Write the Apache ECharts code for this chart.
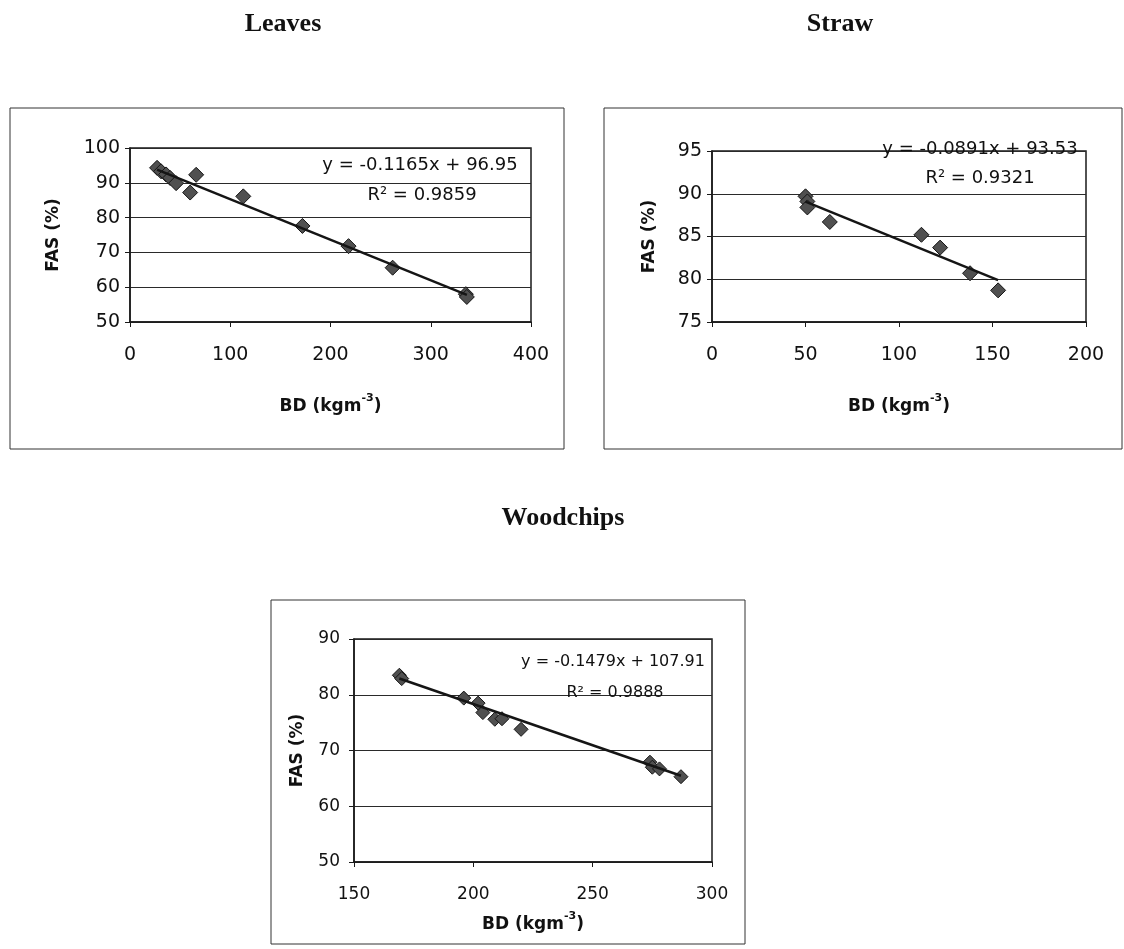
<!DOCTYPE html>
<html>
<head>
<meta charset="utf-8">
<script src="https://cdn.jsdelivr.net/npm/echarts/dist/echarts.min.js"></script>
<style>html,body{margin:0;padding:0;background:#fff}#c{width:1124px;height:949px}</style>
</head>
<body>
<div id="c"></div>
<script>
// ---- data ----
const leavesBD  = [27, 31, 36, 40, 46, 60, 66, 113, 172, 218, 262, 335, 336];
const leavesFAS = [94.3, 93.3, 92.4, 91.4, 89.9, 87.2, 92.3, 86.1, 77.6, 71.8, 65.6, 58.0, 57.2];
const strawBD   = [50, 51, 51, 63, 112, 122, 138, 153];
const strawFAS  = [89.7, 89.1, 88.4, 86.7, 85.2, 83.7, 80.7, 78.7];
const woodBD    = [169, 170, 196, 202, 204, 209, 212, 220, 274, 275, 278, 287];
const woodFAS   = [83.5, 82.9, 79.4, 78.5, 76.8, 75.6, 75.7, 73.8, 67.9, 67.0, 66.7, 65.3];

// linear trendlines as printed on the charts: [slope, intercept]
const leavesFit = [-0.1165, 96.95];
const strawFit  = [-0.0891, 93.53];
const woodFit   = [-0.1479, 107.91];
const leavesEq = ['y = -0.1165x + 96.95', 'R\u00B2 = 0.9859'];
const strawEq  = ['y = -0.0891x + 93.53', 'R\u00B2 = 0.9321'];
const woodEq   = ['y = -0.1479x + 107.91', 'R\u00B2 = 0.9888'];

const titles = ['Leaves', 'Straw', 'Woodchips'];
// axis ranges [min, max, interval]
const leavesX = [0, 400, 100], leavesY = [50, 100, 10];
const strawX  = [0, 200, 50],  strawY  = [75, 95, 5];
const woodX   = [150, 300, 50], woodY  = [50, 90, 10];
const xName = 'BD (kgm';
const xSup = '-3';
const yName = 'FAS (%)';

// ---- build ----
const F = '"DejaVu Sans", Arial, sans-serif';
const pts = (xs, ys) => xs.map((x, i) => [x, ys[i]]);
const trend = (xs, fit) => {
  const lo = Math.min(...xs), hi = Math.max(...xs);
  return [[lo, fit[0] * lo + fit[1]], [hi, fit[0] * hi + fit[1]]];
};

const grids = [
  {left: 130, top: 148, width: 401, height: 174},
  {left: 712, top: 151, width: 374, height: 171},
  {left: 354, top: 639, width: 358, height: 223}
];
const fs = [19, 19, 17];
const xr = [leavesX, strawX, woodX];
const yr = [leavesY, strawY, woodY];
const xGap = [71, 71, 49];
const yGap = [68, 54, 48];
const xLabMargin = [24, 24, 24];
const yLabMargin = [10, 10, 14];

const xAxes = xr.map((r, i) => ({
  type: 'value', gridIndex: i, min: r[0], max: r[1], interval: r[2],
  axisLine: {show: true, onZero: false, lineStyle: {color: '#1a1a1a', width: 1.5}},
  axisTick: {show: true, inside: false, length: 5, lineStyle: {color: '#1a1a1a'}},
  axisLabel: {fontFamily: F, fontSize: fs[i], color: '#111', margin: xLabMargin[i]},
  splitLine: {show: false},
  name: '{b|' + xName + '}{s|' + xSup + '}{b|)}',
  nameLocation: 'middle', nameGap: xGap[i],
  nameTextStyle: {
    rich: {
      b: {fontFamily: F, fontWeight: 'bold', fontSize: 17, color: '#111', lineHeight: 22, verticalAlign: 'bottom'},
      s: {fontFamily: F, fontWeight: 'bold', fontSize: 11, color: '#111', lineHeight: 22, verticalAlign: 'top'}
    }
  }
}));
const yAxes = yr.map((r, i) => ({
  type: 'value', gridIndex: i, min: r[0], max: r[1], interval: r[2],
  axisLine: {show: true, onZero: false, lineStyle: {color: '#1a1a1a', width: 1.5}},
  axisTick: {show: true, inside: false, length: 5, lineStyle: {color: '#1a1a1a'}},
  axisLabel: {fontFamily: F, fontSize: fs[i], color: '#111', margin: yLabMargin[i]},
  splitLine: {show: true, lineStyle: {color: '#2a2a2a', width: 1}},
  name: yName, nameLocation: 'middle', nameGap: yGap[i], nameRotate: 90,
  nameTextStyle: {fontFamily: F, fontWeight: 'bold', fontSize: 17, color: '#111'}
}));

const sets = [[leavesBD, leavesFAS, leavesFit], [strawBD, strawFAS, strawFit], [woodBD, woodFAS, woodFit]];
const series = [];
sets.forEach((s, i) => {
  series.push({
    type: 'scatter', xAxisIndex: i, yAxisIndex: i, data: pts(s[0], s[1]),
    symbol: 'diamond', symbolSize: i === 2 ? 14 : 15, z: 3,
    itemStyle: {color: '#505050', borderColor: '#151515', borderWidth: 1, opacity: 1}
  });
  series.push({
    type: 'line', xAxisIndex: i, yAxisIndex: i, data: trend(s[0], s[2]),
    symbol: 'none', z: 4, silent: true,
    lineStyle: {color: '#151515', width: 2.5}
  });
});

const boxes = [
  {x: 10, y: 108, w: 554, h: 341},
  {x: 604, y: 108, w: 518, h: 341},
  {x: 271, y: 600, w: 474, h: 344}
];
const graphic = [];
boxes.forEach(b => graphic.push({
  type: 'rect', z: -1, silent: true,
  shape: {x: b.x, y: b.y, width: b.w, height: b.h},
  style: {fill: 'none', stroke: '#333', lineWidth: 1}
}));
const titlePos = [[283, 24], [840, 24], [563, 518]];
titles.forEach((t, i) => graphic.push({
  type: 'text', x: titlePos[i][0], y: titlePos[i][1],
  style: {text: t, font: 'bold 26px "Liberation Serif", "Times New Roman", serif', fill: '#111',
          textAlign: 'center', textVerticalAlign: 'middle', align: 'center', verticalAlign: 'middle'}
}));
const eqs = [leavesEq, strawEq, woodEq];
const eqPos = [[[420, 165], [422, 195]], [[980, 149], [980, 178]], [[613, 662], [615, 693]]];
const eqFs = [18, 18, 16];
eqs.forEach((e, i) => e.forEach((line, j) => graphic.push({
  type: 'text', x: eqPos[i][j][0], y: eqPos[i][j][1], z: 10,
  style: {text: line, font: eqFs[i] + 'px ' + F, fill: '#111',
          textAlign: 'center', textVerticalAlign: 'middle', align: 'center', verticalAlign: 'middle'}
})));

const chart = echarts.init(document.getElementById('c'), null, {renderer: 'canvas'});
chart.setOption({
  backgroundColor: '#fff',
  animation: false,
  grid: grids.map(g => Object.assign({show: true, borderColor: '#1a1a1a', borderWidth: 1.5, backgroundColor: '#fff'}, g)),
  xAxis: xAxes,
  yAxis: yAxes,
  series: series,
  graphic: graphic
});
</script>
</body>
</html>
